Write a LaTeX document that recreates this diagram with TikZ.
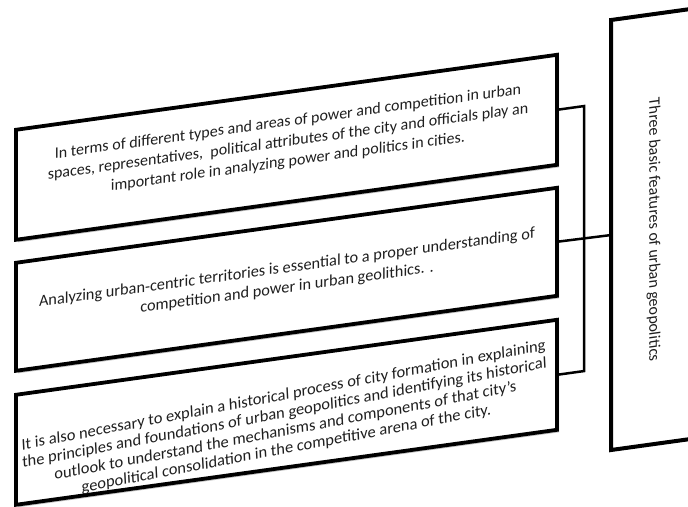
\documentclass[tikz,border=0pt]{standalone}
\usepackage{fontspec}
\setmainfont{Carlito}
\usetikzlibrary{shadows}
\begin{document}
\begin{tikzpicture}[x=1pt,y=1pt,
  featbox/.style={draw=black, line width=3.8pt, fill=white, rectangle, inner sep=0pt, transform shape,
    drop shadow={shadow xshift=2pt, shadow yshift=-2.5pt, fill=black!45, opacity=.55}},
  titlebox/.style={draw=black, line width=4pt, fill=white, rectangle, inner sep=0pt, transform shape},
  boxtext/.style={font=\fontsize{16}{20}\selectfont, align=center, text=black!88, transform shape, inner sep=0pt},
  link/.style={draw=black, line width=2.5pt, line join=miter}
]
\useasboundingbox (0,0) rectangle (688,-506);
\clip (0,0) rectangle (688,-506);
\begin{scope}[yslant=0.1386]
  % feature boxes
  \node[featbox, minimum width=541pt, minimum height=110pt] (b1) at (286.5,-187) {};
  \node[featbox, minimum width=541pt, minimum height=108pt] (b2) at (286.5,-319) {};
  \node[featbox, minimum width=541pt, minimum height=110pt] (b3) at (286.5,-452) {};
  % title box
  \node[titlebox, minimum width=89pt, minimum height=430pt] (r) at (655.5,-319.7) {};
  % texts
  \node[boxtext] (t1) at (288,-182) {In terms of different types and areas of power and competition in urban\\
    spaces, representatives,\ \ political attributes of the city and officials play an\\
    important role in analyzing power and politics in cities.};
  \node[boxtext, font=\fontsize{16.3}{20}\selectfont] (t2) at (287,-318) {Analyzing urban-centric territories is essential to a proper understanding of\\
    competition and power in urban geolithics. .};
  \node[boxtext, rotate=3, font=\fontsize{16.4}{18}\selectfont] (t3) at (285,-462) {It is also necessary to explain a historical process of city formation in explaining\\
    the principles and foundations of urban geopolitics and identifying its historical\\
    outlook to understand the mechanisms and components of that city's\\
    geopolitical consolidation in the competitive arena of the city.};
  \node[boxtext, rotate=-90] (rt) at (653.5,-320.6) {Three basic features of urban geopolitics};
  % connectors
  \coordinate (k1) at (584,-187);
  \coordinate (k3) at (584,-452);
  \draw[link] (b1.east) -- (k1) -- (k3) -- (b3.east);
  \draw[link] (b2.east) -- (r.west);
\end{scope}
\end{tikzpicture}
\end{document}
